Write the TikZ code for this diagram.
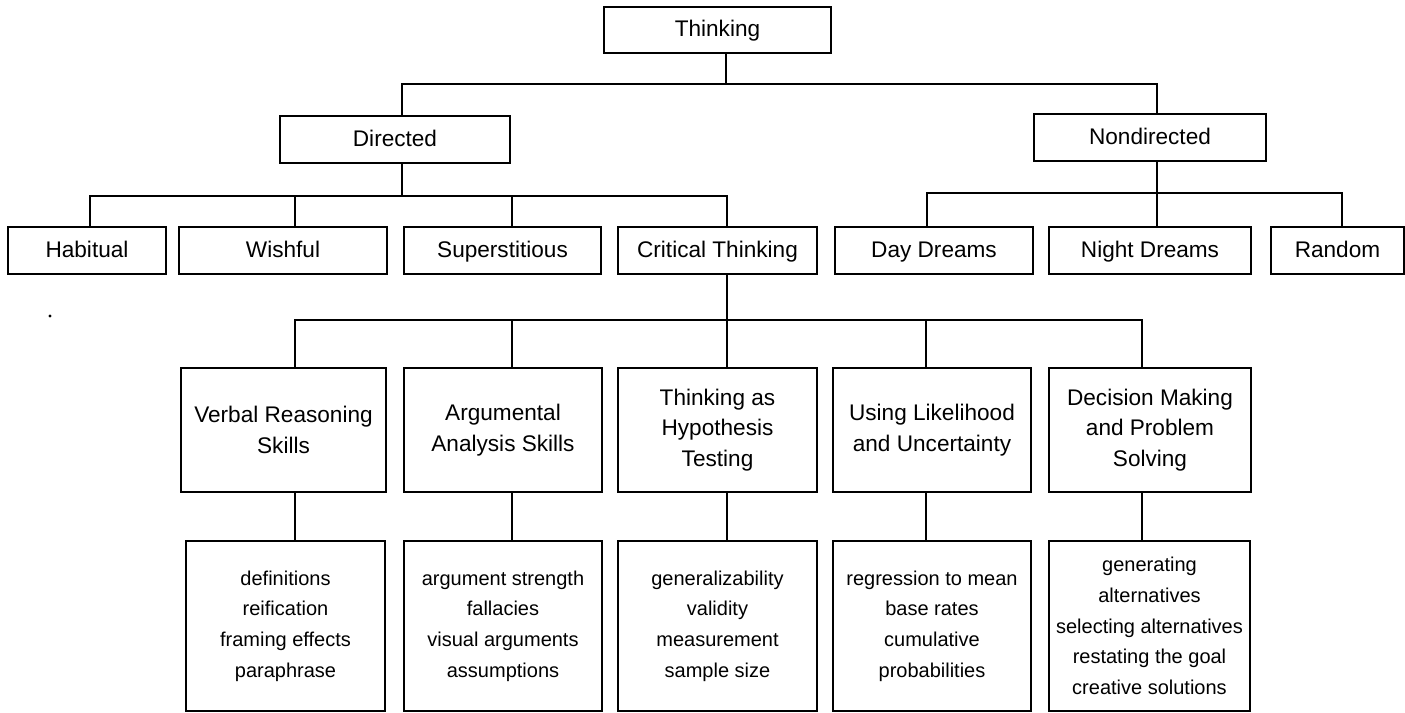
\documentclass[tikz,border=0pt]{standalone}
\usepackage{fontspec}
\setmainfont{Liberation Sans}
\begin{document}
\begin{tikzpicture}[x=0.5pt,y=-0.5pt,
  every path/.style={line width=1pt},
  box/.style={draw, line width=1pt, rectangle, inner sep=0pt, align=center,
    font=\fontsize{11.3}{15.2}\selectfont},
  onebox/.style={box, text height=8.2pt, text depth=1.6pt},
  rowA/.style={onebox, minimum height=23.5pt},
  rowB/.style={box, minimum height=62pt},
  rowC/.style={box, minimum height=85pt, font=\fontsize{10}{15.3}\selectfont},
  conn/.style={line width=1pt}]
\useasboundingbox (0,0) rectangle (1405,713);
% level 0 and 1
\node[onebox, minimum width=113.5pt, minimum height=23pt] (think) at (717.5,30) {Thinking};
\node[rowA, minimum width=115pt] (dir) at (395,139.5) {Directed};
\node[rowA, minimum width=116pt] (nondir) at (1150,137.5) {Nondirected};
% level 2
\node[rowA, minimum width=79pt] (hab) at (87,250.5) {Habitual};
\node[rowA, minimum width=104pt] (wish) at (283,250.5) {Wishful};
\node[rowA, minimum width=98.5pt] (sup) at (502.5,250.5) {Superstitious};
\node[rowA, minimum width=99.5pt] (crit) at (717.5,250.5) {Critical Thinking};
\node[rowA, minimum width=99pt] (day) at (934,250.5) {Day Dreams};
\node[rowA, minimum width=101pt] (night) at (1150,250.5) {Night Dreams};
\node[rowA, minimum width=66.5pt] (rand) at (1337.5,250.5) {Random};
% level 3
\node[rowB, minimum width=102.5pt] (verb) at (283.5,430) {Verbal Reasoning\\Skills};
\node[rowB, minimum width=99pt] (arg) at (503,430) {Argumental\\Analysis Skills};
\node[rowB, minimum width=99.5pt] (hyp) at (717.5,430) {Thinking as\\Hypothesis\\Testing};
\node[rowB, minimum width=99pt] (like) at (932,430) {Using Likelihood\\and Uncertainty};
\node[rowB, minimum width=101pt] (dec) at (1150,430) {Decision Making\\and Problem\\Solving};
% level 4
\node[rowC, minimum width=99.5pt] (verbL) at (285.5,626) {definitions\\reification\\framing effects\\paraphrase};
\node[rowC, minimum width=99pt] (argL) at (503,626) {argument strength\\fallacies\\visual arguments\\assumptions};
\node[rowC, minimum width=99.5pt] (hypL) at (717.5,626) {generalizability\\validity\\measurement\\sample size};
\node[rowC, minimum width=99pt] (likeL) at (932,626) {regression to mean\\base rates\\cumulative\\probabilities};
\node[rowC, minimum width=100.5pt] (decL) at (1149.5,626) {generating\\alternatives\\selecting alternatives\\restating the goal\\creative solutions};
% junction coordinates
\coordinate (t0) at (726,84);
\coordinate (bA) at (402,84);
\coordinate (bB) at (1157,84);
\coordinate (d1) at (402,196);
\coordinate (h1) at (90,196);
\coordinate (w1) at (295,196);
\coordinate (s1) at (512,196);
\coordinate (c1) at (727,196);
\coordinate (n1) at (1157,193);
\coordinate (dd1) at (927,193);
\coordinate (r1) at (1342,193);
\coordinate (v2) at (295,320);
\coordinate (a2) at (512,320);
\coordinate (h2) at (727,320);
\coordinate (l2) at (926,320);
\coordinate (e2) at (1142,320);
% connectors
\draw[conn] (think.south -| t0) -- (t0);
\draw[conn] (dir.north -| bA) -- (bA) -- (bB) -- (nondir.north -| bB);
\draw[conn] (dir.south -| d1) -- (d1);
\draw[conn] (hab.north -| h1) -- (h1) -- (c1) -- (crit.north -| c1);
\draw[conn] (wish.north -| w1) -- (w1);
\draw[conn] (sup.north -| s1) -- (s1);
\draw[conn] (nondir.south -| n1) -- (night.north -| n1);
\draw[conn] (day.north -| dd1) -- (dd1) -- (r1) -- (rand.north -| r1);
\draw[conn] (crit.south -| h2) -- (hyp.north -| h2);
\draw[conn] (verb.north -| v2) -- (v2) -- (e2) -- (dec.north -| e2);
\draw[conn] (arg.north -| a2) -- (a2);
\draw[conn] (like.north -| l2) -- (l2);
\draw[conn] (verb.south -| v2) -- (verbL.north -| v2);
\draw[conn] (arg.south -| a2) -- (argL.north -| a2);
\draw[conn] (hyp.south -| h2) -- (hypL.north -| h2);
\draw[conn] (like.south -| l2) -- (likeL.north -| l2);
\draw[conn] (dec.south -| e2) -- (decL.north -| e2);
% scan speck
\fill (50,316) circle (0.8pt);
\end{tikzpicture}
\end{document}
